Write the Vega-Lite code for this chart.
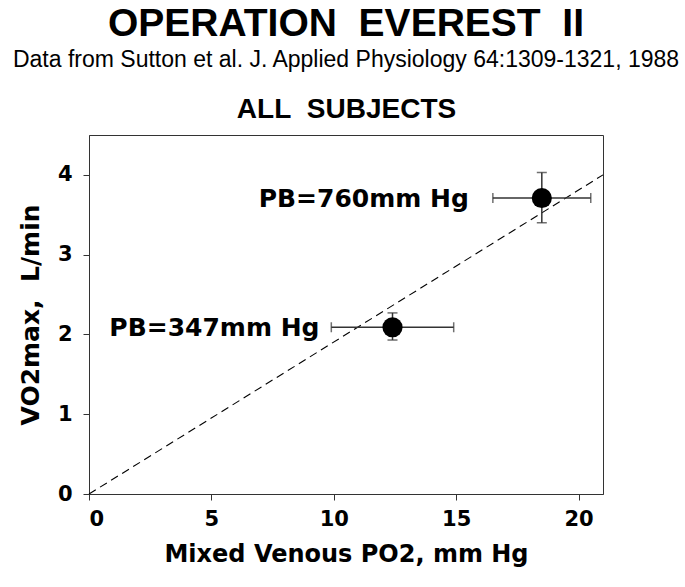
{
  "$schema": "https://vega.github.io/schema/vega-lite/v6.json",
  "width": 514,
  "height": 359,
  "autosize": {"type": "none"},
  "padding": {"left": 89, "top": 135, "right": 82, "bottom": 93},
  "background": "white",
  "title": {
    "text": "OPERATION\u00a0\u00a0EVEREST\u00a0\u00a0II",
    "subtitle": "Data from Sutton et al. J. Applied Physiology 64:1309-1321, 1988",
    "font": "Liberation Sans",
    "fontSize": 39,
    "fontWeight": "bold",
    "color": "black",
    "subtitleFont": "Liberation Sans",
    "subtitleFontSize": 23,
    "subtitleColor": "black",
    "subtitlePadding": 5,
    "anchor": "middle",
    "offset": 23
  },
  "datasets": {
    "pts": [
      {"condition": "PB=347mm Hg", "po2": 12.4, "po2_lo": 9.9, "po2_hi": 14.9, "vo2": 2.09, "vo2_lo": 1.93, "vo2_hi": 2.27},
      {"condition": "PB=760mm Hg", "po2": 18.5, "po2_lo": 16.5, "po2_hi": 20.5, "vo2": 3.71, "vo2_lo": 3.4, "vo2_hi": 4.03}
    ],
    "ref": [
      {"po2": 0, "vo2": 0},
      {"po2": 21, "vo2": 4}
    ]
  },
  "resolve": {"axis": {"x": "independent", "y": "independent"}},
  "layer": [
    {
      "data": {"name": "ref"},
      "mark": {"type": "line", "color": "black", "strokeWidth": 1.1, "strokeDash": [8, 5]},
      "encoding": {
        "x": {"field": "po2", "type": "quantitative", "scale": {"domain": [0, 21], "nice": false, "zero": true},
          "axis": {"orient": "bottom", "values": [0, 5, 10, 15, 20], "title": "Mixed Venous PO2, mm Hg", "titleFontSize": 24, "titlePadding": 13, "labelPadding": 8}},
        "y": {"field": "vo2", "type": "quantitative", "scale": {"domain": [0, 4.5], "nice": false},
          "axis": {"orient": "left", "values": [0, 1, 2, 3, 4], "title": "VO2max,\u00a0\u00a0L/min", "titleFontSize": 25, "titlePadding": 14, "labelPadding": 11}}
      }
    },
    {
      "data": {"name": "pts"},
      "mark": {"type": "rule", "color": "#333", "strokeWidth": 1.5},
      "encoding": {
        "x": {"field": "po2_lo", "type": "quantitative",
          "axis": {"orient": "top", "labels": false, "ticks": false, "domain": false, "title": "ALL\u00a0\u00a0SUBJECTS", "titleFont": "Liberation Sans", "titleFontSize": 28, "titlePadding": 12}},
        "x2": {"field": "po2_hi"},
        "y": {"field": "vo2", "type": "quantitative", "axis": null}
      }
    },
    {
      "data": {"name": "pts"},
      "mark": {"type": "rule", "color": "#333", "strokeWidth": 1.5},
      "encoding": {
        "x": {"field": "po2", "type": "quantitative", "axis": null},
        "y": {"field": "vo2_lo", "type": "quantitative", "axis": null},
        "y2": {"field": "vo2_hi"}
      }
    },
    {
      "data": {"name": "pts"},
      "mark": {"type": "tick", "orient": "vertical", "color": "#333", "size": 10, "thickness": 1.5},
      "encoding": {
        "x": {"field": "po2_lo", "type": "quantitative", "axis": null},
        "y": {"field": "vo2", "type": "quantitative", "axis": null}
      }
    },
    {
      "data": {"name": "pts"},
      "mark": {"type": "tick", "orient": "vertical", "color": "#333", "size": 10, "thickness": 1.5},
      "encoding": {
        "x": {"field": "po2_hi", "type": "quantitative", "axis": null},
        "y": {"field": "vo2", "type": "quantitative", "axis": null}
      }
    },
    {
      "data": {"name": "pts"},
      "mark": {"type": "tick", "orient": "horizontal", "color": "#333", "size": 10, "thickness": 1.5},
      "encoding": {
        "x": {"field": "po2", "type": "quantitative", "axis": null},
        "y": {"field": "vo2_lo", "type": "quantitative", "axis": null}
      }
    },
    {
      "data": {"name": "pts"},
      "mark": {"type": "tick", "orient": "horizontal", "color": "#333", "size": 10, "thickness": 1.5},
      "encoding": {
        "x": {"field": "po2", "type": "quantitative", "axis": null},
        "y": {"field": "vo2_hi", "type": "quantitative", "axis": null}
      }
    },
    {
      "data": {"name": "pts"},
      "mark": {"type": "point", "shape": "circle", "filled": true, "color": "black", "opacity": 1, "size": 405},
      "encoding": {
        "x": {"field": "po2", "type": "quantitative", "axis": null},
        "y": {"field": "vo2", "type": "quantitative", "axis": null}
      }
    },
    {
      "data": {"name": "pts"},
      "mark": {"type": "text", "font": "DejaVu Sans", "fontWeight": "bold", "fontSize": 25, "color": "black", "align": "right", "baseline": "middle", "dx": -73, "dy": 1},
      "encoding": {
        "x": {"field": "po2", "type": "quantitative", "axis": null},
        "y": {"field": "vo2", "type": "quantitative", "axis": null},
        "text": {"field": "condition"}
      }
    }
  ],
  "config": {
    "view": {"stroke": "#333", "strokeWidth": 1},
    "axis": {
      "grid": false,
      "labelFont": "DejaVu Sans",
      "labelFontWeight": "bold",
      "labelFontSize": 21,
      "labelColor": "black",
      "titleFont": "DejaVu Sans",
      "titleFontWeight": "bold",
      "titleColor": "black",
      "domainColor": "#333",
      "tickColor": "#333",
      "tickSize": 6
    }
  }
}
